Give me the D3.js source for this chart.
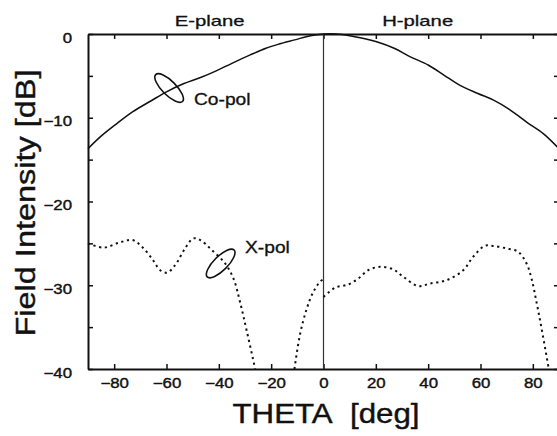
<!DOCTYPE html>
<html><head><meta charset="utf-8">
<script src="https://cdn.jsdelivr.net/npm/d3@7"></script>
<style>body{margin:0;background:#fff}svg{display:block}text{font-family:"Liberation Sans",Arial,sans-serif;fill:#111}</style>
</head><body><svg id="c" width="557" height="436"></svg>
<script>
const xTicks = [-80,-60,-40,-20,0,20,40,60,80];
const yTicks = [-40,-35,-30,-25,-20,-15,-10,-5,0];
const yLabels = [-40,-30,-20,-10,0];
const copolTheta = [-90,-85,-79,-73,-66,-60,-54,-47,-41,-35,-28,-22,-17,-11,-5,0,5,10,15,20,27,33,40,46,52,59,65,71,78,84,90];
const copolDb = [-13.7,-12.2,-10.7,-9.3,-8.0,-6.9,-6.0,-5.2,-4.4,-3.5,-2.5,-1.7,-1.2,-0.7,-0.2,0,0,-0.2,-0.5,-0.9,-1.7,-2.7,-3.7,-4.9,-6.1,-7.1,-7.9,-9.0,-10.6,-11.9,-13.7];
const xpolE1Theta = [-90,-84,-78,-73,-69.4,-65.6,-62.4,-59.8,-56.7,-52.9,-49.7,-47.1,-43,-37.6,-34.4,-31.9,-29.3,-26.1];
const xpolE1Db = [-25.0,-25.5,-24.9,-24.6,-25.4,-26.8,-28.2,-28.5,-27.6,-25.6,-24.4,-24.6,-25.7,-27.4,-29.2,-32.0,-35.5,-40];
const xpolE2Theta = [-11.1,-9,-6.4,-3.9,-1.1,0];
const xpolE2Db = [-40,-35.9,-32.8,-30.8,-29.5,-29.3];
const xpolHTheta = [0,4.4,9.5,13.3,17.1,21.6,26.6,30.5,36.2,40.6,47,53.4,57.2,61.6,64.8,69.9,74.4,77.6,79.5,81.4,83.3,86.1];
const xpolHDb = [-31.4,-30.3,-29.9,-29.2,-28.2,-27.8,-28.1,-29.0,-30.1,-29.8,-29.4,-28.2,-26.6,-25.3,-25.3,-25.6,-26.0,-27.4,-29.2,-32.0,-35.1,-40];
const planeNames = ["E-plane","H-plane"];
const planeTheta = [-43.5,36];
const seriesNames = ["Co-pol","X-pol"];
const markerTheta = [-59,-39.3];
const markerDb = [-6.45,-27.4];
const markerAngle = [45,-45];
const labelTheta = [-49.5,-30];
const labelDb = [-8.5,-26.1];
</script>
<script>
const svg = d3.select("#c");
const x = d3.scaleLinear().domain([-90,90]).range([88,559]);
const y = d3.scaleLinear().domain([-40,0]).range([369,34]);

function stretch(sel, f){
  sel.each(function(){
    const w = this.getComputedTextLength();
    d3.select(this).attr("textLength", w*f).attr("lengthAdjust","spacingAndGlyphs");
  });
}
function ink(sel, w){ sel.attr("stroke","#111").attr("stroke-width",w).attr("paint-order","stroke"); }

// axes
const gB = svg.append("g").attr("transform",`translate(0,${y(-40)})`)
  .call(d3.axisBottom(x).tickValues(xTicks).tickSize(-5).tickSizeOuter(0).tickPadding(9).tickFormat(d3.format("d")));
const gT = svg.append("g").attr("transform",`translate(0,${y(0)})`)
  .call(d3.axisTop(x).tickValues(xTicks).tickSize(-5).tickSizeOuter(0).tickFormat(""));
const gL = svg.append("g").attr("transform",`translate(${x(-90)},0)`)
  .call(d3.axisLeft(y).tickValues(yTicks).tickSize(-5).tickSizeOuter(0).tickPadding(16)
    .tickFormat(d => yLabels.includes(d) ? d3.format("d")(d) : ""));
const gR = svg.append("g").attr("transform",`translate(${x(90)},0)`)
  .call(d3.axisRight(y).tickValues(yTicks).tickSize(-5).tickSizeOuter(0).tickFormat(""));
[gB,gT,gL,gR].forEach(g=>{
  g.select(".domain").attr("stroke","#111").attr("stroke-width",2);
  g.selectAll(".tick line").attr("stroke","#111").attr("stroke-width",1.5);
  g.selectAll("text").attr("font-family","Liberation Sans, Arial, sans-serif").attr("font-size",14).attr("fill","#111");
});
gL.selectAll(".tick text").attr("dy","0.58em");
stretch(gB.selectAll(".tick text"),1.2);
stretch(gL.selectAll(".tick text"),1.2);
ink(gB.selectAll(".tick text"),0.4);
ink(gL.selectAll(".tick text"),0.4);

// centre line
svg.append("line").attr("x1",x(0)).attr("x2",x(0)).attr("y1",y(0)).attr("y2",y(-40))
  .attr("stroke","#333").attr("stroke-width",1.2);

const line = d3.line().x(d=>x(d[0])).y(d=>y(d[1])).curve(d3.curveCatmullRom.alpha(0.5));
const zip = (a,b)=>a.map((v,i)=>[v,b[i]]);

svg.append("path").attr("d",line(zip(copolTheta,copolDb)))
  .attr("fill","none").attr("stroke","#111").attr("stroke-width",1.5);

[zip(xpolE1Theta,xpolE1Db), zip(xpolE2Theta,xpolE2Db), zip(xpolHTheta,xpolHDb)].forEach(s=>{
  svg.append("path").attr("d",line(s)).attr("fill","none").attr("stroke","#111")
    .attr("stroke-width",2).attr("stroke-dasharray","2.2,3.6");
});

// markers
markerTheta.forEach((t,i)=>{
  svg.append("ellipse").attr("cx",0).attr("cy",0).attr("rx",19).attr("ry",7)
    .attr("transform",`translate(${x(t)},${y(markerDb[i])}) rotate(${markerAngle[i]})`)
    .attr("fill","none").attr("stroke","#111").attr("stroke-width",1.6);
  const tx = svg.append("text").attr("x",x(labelTheta[i])).attr("y",y(labelDb[i]))
    .attr("font-size",16).text(seriesNames[i]);
  stretch(tx,1.2); ink(tx,0.3);
});

// plane labels
planeNames.forEach((n,i)=>{
  const t = svg.append("text").attr("x",x(planeTheta[i])).attr("y",26).attr("text-anchor","middle")
    .attr("font-size",15).text(n);
  stretch(t,1.35); ink(t,0.3);
});

// axis titles
const xt = svg.append("text").attr("x",326).attr("y",423).attr("text-anchor","middle")
  .attr("font-size",27).text("THETA\u00a0\u00a0[deg]");
xt.attr("textLength",187).attr("lengthAdjust","spacingAndGlyphs"); ink(xt,0.4);
const yt = svg.append("text").attr("transform","translate(35,203) rotate(-90)").attr("text-anchor","middle")
  .attr("font-size",27).text("Field Intensity [dB]");
yt.attr("textLength",267).attr("lengthAdjust","spacingAndGlyphs"); ink(yt,0.4);
</script>
</body></html>
